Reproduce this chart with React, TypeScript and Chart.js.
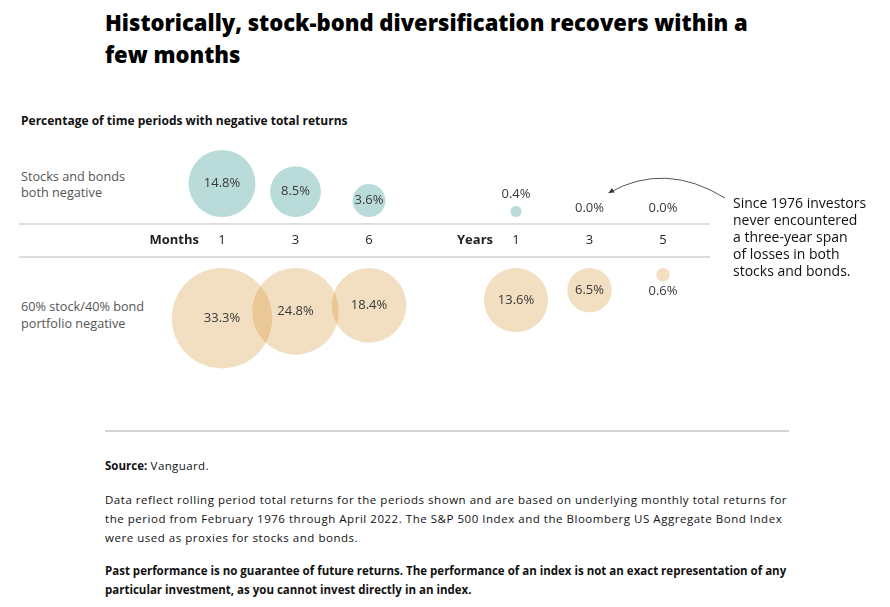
import React, { useEffect, useRef } from "react";
import { Chart, registerables } from "chart.js";

Chart.register(...registerables);

// ---- Data ----
const PERIOD_LABELS = ["1", "3", "6", "1", "3", "5"];
const PERIOD_POS = [0, 1, 2, 4, 5, 6];
const UNIT_LABELS = ["Months", "Years"];
const UNIT_FIRST_INDEX = [0, 3];
const BOTH_NEGATIVE = [14.8, 8.5, 3.6, 0.4, 0.0, 0.0];
const PORTFOLIO_NEGATIVE = [33.3, 24.8, 18.4, 13.6, 6.5, 0.6];
const ROW_TOP_LABEL = ["Stocks and bonds", "both negative"];
const ROW_BOTTOM_LABEL = ["60% stock/40% bond", "portfolio negative"];
const ANNOTATION = [
  "Since 1976 investors",
  "never encountered",
  "a three-year span",
  "of losses in both",
  "stocks and bonds.",
];

// ---- Styling / layout ----
const FONT = "'Open Sans', 'Noto Sans', sans-serif";
const TEAL = "rgb(185,220,218)";
const TAN = "rgba(214,152,58,0.32)";
const RADIUS_K = 8.7;
const TOP_GAP = 23;
const BOTTOM_GAP = 28;
const CANVAS_TOP = 140;
const CANVAS_H = 260;

const rad = (v: number) => RADIUS_K * Math.sqrt(v);

const labelsPlugin = {
  id: "customDecor",
  beforeDatasetsDraw(chart: any) {
    const ctx = chart.ctx;
    const ys = chart.scales.y;
    const xs = chart.scales.x;
    const axisY = ys.getPixelForValue(0);
    ctx.save();
    ctx.strokeStyle = "#bdbdbd";
    ctx.lineWidth = 1.2;
    [axisY - 16, axisY + 17].forEach((yy) => {
      ctx.beginPath();
      ctx.moveTo(19, yy);
      ctx.lineTo(710, yy);
      ctx.stroke();
    });
    // tick labels
    ctx.fillStyle = "#222";
    ctx.textBaseline = "middle";
    ctx.textAlign = "center";
    ctx.font = `13px ${FONT}`;
    PERIOD_LABELS.forEach((l, i) => {
      ctx.fillText(l, xs.getPixelForValue(PERIOD_POS[i]), axisY);
    });
    ctx.font = `bold 13px ${FONT}`;
    ctx.textAlign = "right";
    UNIT_LABELS.forEach((l, i) => {
      ctx.fillText(l, xs.getPixelForValue(PERIOD_POS[UNIT_FIRST_INDEX[i]]) - 23, axisY);
    });
    ctx.restore();
  },
  afterDatasetsDraw(chart: any) {
    const ctx = chart.ctx;
    ctx.save();
    ctx.fillStyle = "#3a3a3a";
    ctx.textAlign = "center";
    ctx.textBaseline = "middle";
    ctx.font = `13px ${FONT}`;
    chart.data.datasets.forEach((ds: any, di: number) => {
      const meta = chart.getDatasetMeta(di);
      meta.data.forEach((el: any, i: number) => {
        const p = ds.data[i];
        const txt = p.v.toFixed(1) + "%";
        let y = el.y;
        if (p.r < 12) {
          if (di === 0) y = p.r > 0 ? el.y - p.r - 12 : el.y - 9;
          else y = el.y + p.r + 10;
        }
        ctx.fillText(txt, el.x, y);
      });
    });
    // annotation arrow pointing at the 3-year "both negative" value
    const meta0 = chart.getDatasetMeta(0);
    const target = meta0.data[4];
    const ex = target.x + 19;
    const ey = target.y - 24;
    const sx = 725;
    const sy = ey + 5;
    const cx = 665;
    const cy = ey - 32;
    ctx.strokeStyle = "#555";
    ctx.lineWidth = 1;
    ctx.beginPath();
    ctx.moveTo(sx, sy);
    ctx.quadraticCurveTo(cx, cy, ex, ey);
    ctx.stroke();
    // arrow head
    const ang = Math.atan2(ey - cy, ex - cx);
    const hl = 6;
    ctx.fillStyle = "#333";
    ctx.beginPath();
    ctx.moveTo(ex, ey);
    ctx.lineTo(ex - hl * Math.cos(ang - 0.45), ey - hl * Math.sin(ang - 0.45));
    ctx.lineTo(ex - hl * Math.cos(ang + 0.45), ey - hl * Math.sin(ang + 0.45));
    ctx.closePath();
    ctx.fill();
    ctx.restore();
  },
};

export default function App() {
  const ref = useRef<HTMLCanvasElement | null>(null);
  useEffect(() => {
    if (!ref.current) return;
    const topData = BOTH_NEGATIVE.map((v, i) => ({
      x: PERIOD_POS[i],
      y: TOP_GAP + rad(v),
      r: rad(v),
      v,
    }));
    const bottomData = PORTFOLIO_NEGATIVE.map((v, i) => ({
      x: PERIOD_POS[i],
      y: -(BOTTOM_GAP + rad(v)),
      r: rad(v),
      v,
    }));
    const chart = new Chart(ref.current, {
      type: "bubble",
      data: {
        datasets: [
          {
            label: "Stocks and bonds both negative",
            data: topData,
            backgroundColor: TEAL,
            borderWidth: 0,
          },
          {
            label: "60% stock/40% bond portfolio negative",
            data: bottomData,
            backgroundColor: TAN,
            borderWidth: 0,
          },
        ],
      },
      options: {
        animation: false,
        responsive: false,
        maintainAspectRatio: false,
        layout: { padding: 0, autoPadding: false },
        plugins: { legend: { display: false }, tooltip: { enabled: false } },
        events: [],
        scales: {
          x: { type: "linear", display: false, min: -222 / 73.5, max: 668 / 73.5 },
          y: { type: "linear", display: false, min: -160, max: 100 },
        },
      },
      plugins: [labelsPlugin],
    } as any);
    return () => chart.destroy();
  }, []);

  const abs = (left: number, top: number, extra: any = {}) => ({
    position: "absolute" as const,
    left,
    top,
    margin: 0,
    whiteSpace: "nowrap" as const,
    ...extra,
  });

  return (
    <div style={{ position: "absolute", left: 0, top: 0, width: 890, height: 607, background: "#fff", fontFamily: FONT, color: "#111" }}>
      <div style={abs(105, 6, { fontSize: 22, fontWeight: 800, lineHeight: "32px", color: "#000" })}>
        Historically, stock-bond diversification recovers within a
        <br />
        few months
      </div>
      <div style={abs(21, 113, { fontSize: 12, fontWeight: 700, lineHeight: "16px", color: "#111" })}>
        Percentage of time periods with negative total returns
      </div>
      <div style={abs(21, 168, { fontSize: 12.7, lineHeight: "16px", color: "#555" })}>
        {ROW_TOP_LABEL[0]}
        <br />
        {ROW_TOP_LABEL[1]}
      </div>
      <div style={abs(21, 298, { fontSize: 12.7, lineHeight: "16.5px", color: "#555" })}>
        {ROW_BOTTOM_LABEL[0]}
        <br />
        {ROW_BOTTOM_LABEL[1]}
      </div>
      <canvas
        ref={ref}
        width={890}
        height={CANVAS_H}
        style={{ position: "absolute", left: 0, top: CANVAS_TOP, width: 890, height: CANVAS_H }}
      />
      <div style={abs(733, 194, { fontSize: 14, lineHeight: "17px", color: "#111" })}>
        {ANNOTATION.map((l, i) => (
          <div key={i}>{l}</div>
        ))}
      </div>
      <div style={abs(105, 430, { width: 684, height: 2, background: "#d4d4d4" })} />
      <div style={abs(105, 458, { fontSize: 11.5, lineHeight: "16px", color: "#111", letterSpacing: "0.4px" })}>
        <b style={{ letterSpacing: 0 }}>Source:</b> Vanguard.
      </div>
      <div style={abs(105, 490, { fontSize: 11.5, lineHeight: "19px", color: "#111", letterSpacing: "0.53px" })}>
        Data reflect rolling period total returns for the periods shown and are based on underlying monthly total returns for
        <br />
        the period from February 1976 through April 2022. The S&amp;P 500 Index and the Bloomberg US Aggregate Bond Index
        <br />
        were used as proxies for stocks and bonds.
      </div>
      <div style={abs(105, 561, { fontSize: 11.5, lineHeight: "19px", fontWeight: 700, color: "#111" })}>
        Past performance is no guarantee of future returns. The performance of an index is not an exact representation of any
        <br />
        particular investment, as you cannot invest directly in an index.
      </div>
    </div>
  );
}
